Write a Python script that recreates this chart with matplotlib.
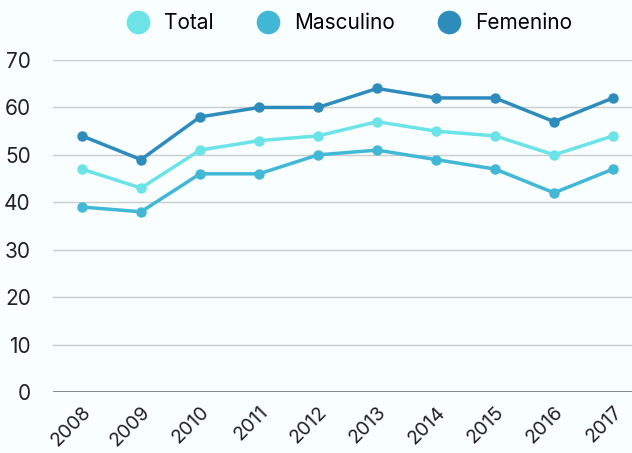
import matplotlib
matplotlib.use("Agg")
import matplotlib.pyplot as plt
from matplotlib.lines import Line2D

years = [2008, 2009, 2010, 2011, 2012, 2013, 2014, 2015, 2016, 2017]
total = [47, 43, 51, 53, 54, 57, 55, 54, 50, 54]
masculino = [39, 38, 46, 46, 50, 51, 49, 47, 42, 47]
femenino = [54, 49, 58, 60, 60, 64, 62, 62, 57, 62]
series_names = ["Total", "Masculino", "Femenino"]
colors = ["#6ce3e6", "#42b8d6", "#2e8cbc"]
yticks = [0, 10, 20, 30, 40, 50, 60, 70]

plt.rcParams["font.family"] = ["Inter", "DejaVu Sans"]
bg = "#f8fffe"

fig = plt.figure(figsize=(6.32, 4.53), dpi=100, facecolor=bg)
ax = fig.add_axes([0.084, 0.1347, 0.916, 0.7328], facecolor=bg)

for vals, col in zip([total, masculino, femenino], colors):
    ax.plot(years, vals, color=col, lw=2.5, marker="o", ms=6.5,
            solid_capstyle="round", zorder=3)

ax.set_xlim(2007.51, 2017.32)
ax.set_ylim(0, 70)
ax.set_yticks(yticks)
ax.set_xticks(years)
ax.set_xticklabels([str(y) for y in years], rotation=45, ha="right",
                   rotation_mode="anchor", fontsize=14, color="#222222")
ax.tick_params(axis="y", labelsize=15, labelcolor="#222222", length=0, pad=16)
ax.tick_params(axis="x", length=0, pad=8)
for s in ax.spines.values():
    s.set_visible(False)
ax.grid(axis="y", color="#c9cccc", lw=1)
ax.axhline(0, color="#777777", lw=1.2, zorder=2)

handles = [Line2D([], [], ls="none", marker="o", ms=16, color=c) for c in colors]
fig.legend(handles, series_names, loc="upper center", bbox_to_anchor=(0.545, 1.012),
           ncol=3, frameon=False, fontsize=15, handletextpad=0.25,
           columnspacing=1.6)

fig.savefig("out.png", dpi=100, facecolor=bg)
